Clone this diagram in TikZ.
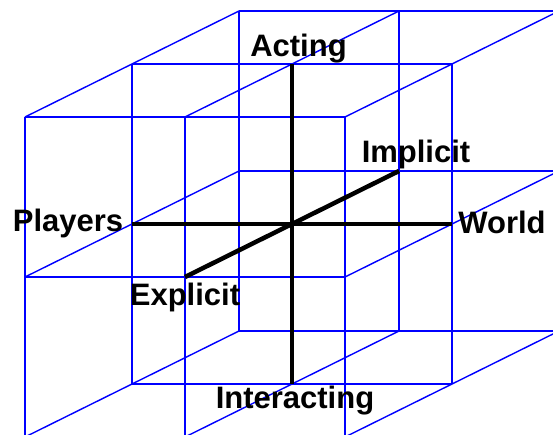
\documentclass[tikz,border=0pt]{standalone}
\usepackage{fontspec}
\setmainfont{Liberation Sans}
\begin{document}
\begin{tikzpicture}[x=1pt,y=1pt,
  gridline/.style={draw={rgb,255:red,0;green,0;blue,255},line width=1.4pt},
  axisline/.style={draw=black,line width=4.5pt},
  lbl/.style={anchor=base,inner sep=0pt,font=\fontsize{31}{36}\selectfont\bfseries}]
\useasboundingbox (0,0) rectangle (553,434);
\clip (0,0) rectangle (553,434);
\fill[white] (0,0) rectangle (553,434);
\begin{scope}[shift={(292pt,210pt)},x={(160pt,0pt)},y={(0pt,160pt)},z={(107pt,53pt)}]
  \foreach \a in {-1,0,1}{
    \foreach \b in {-1,0,1}{
      \draw[gridline] (\a,\b,-1) -- (\a,\b,1);
      \draw[gridline] (\a,-1,\b) -- (\a,1,\b);
      \draw[gridline] (-1,\a,\b) -- (1,\a,\b);
    }
  }
  \coordinate (top) at (0,1,0);
  \coordinate (bottom) at (0,-1,0);
  \coordinate (left) at (-1,0,0);
  \coordinate (right) at (1,0,0);
  \coordinate (front) at (0,0,-1);
  \coordinate (back) at (0,0,1);
\end{scope}
\draw[axisline] (top) -- (bottom);
\draw[axisline] (left) -- (right);
\draw[axisline] (front) -- (back);
\node[lbl] (acting) at (298.5,377) {Acting};
\node[lbl] (players) at (68,203) {Players};
\node[lbl] (world) at (502,201) {World};
\node[lbl] (interacting) at (295,26) {Interacting};
\node[lbl] (explicit) at (185,129) {Explicit};
\node[lbl] (implicit) at (416,271) {Implicit};
\end{tikzpicture}
\end{document}
